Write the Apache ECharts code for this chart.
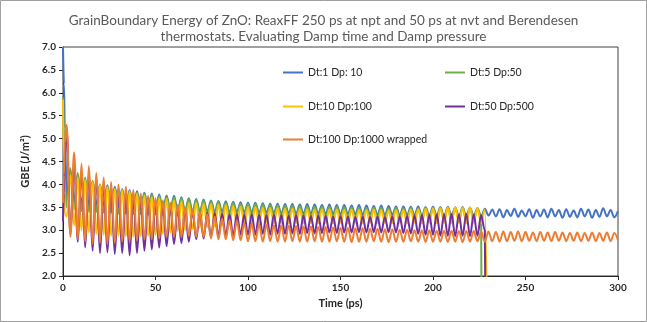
<!DOCTYPE html>
<html>
<head>
<meta charset="utf-8">
<script src="https://cdn.jsdelivr.net/npm/echarts@6/dist/echarts.min.js"></script>
<style>
  html, body { margin: 0; padding: 0; background: #fff; }
  #chart { width: 647px; height: 322px; }
</style>
</head>
<body>
<div id="chart"></div>
<script>
const titleText = 'GrainBoundary Energy of ZnO: ReaxFF 250 ps at npt and 50 ps at nvt and Berendesen\nthermostats. Evaluating Damp time and Damp pressure';
const seriesNames = ['Dt:1 Dp: 10', 'Dt:5 Dp:50', 'Dt:10 Dp:100', 'Dt:50 Dp:500', 'Dt:100 Dp:1000 wrapped'];
const seriesColors = ['#4472C4', '#70AD47', '#FFC000', '#7030A0', '#ED7D31'];

// time (ps)
const times = [0, 0.5, 1,
  2, 4, 6, 8, 10, 12, 14, 16, 18, 20,
  22, 24, 26, 28, 30, 32, 34, 36, 38, 40,
  42, 44, 46, 48, 50, 52, 54, 56, 58, 60,
  62, 64, 66, 68, 70, 72, 74, 76, 78, 80,
  82, 84, 86, 88, 90, 92, 94, 96, 98, 100,
  102, 104, 106, 108, 110, 112, 114, 116, 118, 120,
  122, 124, 126, 128, 130, 132, 134, 136, 138, 140,
  142, 144, 146, 148, 150, 152, 154, 156, 158, 160,
  162, 164, 166, 168, 170, 172, 174, 176, 178, 180,
  182, 184, 186, 188, 190, 192, 194, 196, 198, 200,
  202, 204, 206, 208, 210, 212, 214, 216, 218, 220,
  222, 224, 226, 228, 230, 232, 234, 236, 238, 240,
  242, 244, 246, 248, 250, 252, 254, 256, 258, 260,
  262, 264, 266, 268, 270, 272, 274, 276, 278, 280,
  282, 284, 286, 288, 290, 292, 294, 296, 298, 300];

const gbeDt1 = [7.0, 6.2, 5.2,
  3.7, 4.3, 3.62, 4.2, 3.58, 4.12, 3.55, 4.05, 3.55, 4.0,
  3.52, 3.98, 3.5, 3.95, 3.5, 3.9, 3.48, 3.88, 3.47, 3.85,
  3.46, 3.82, 3.45, 3.8, 3.44, 3.78, 3.43, 3.76, 3.42, 3.75,
  3.42, 3.72, 3.41, 3.7, 3.4, 3.68, 3.4, 3.67, 3.4, 3.65,
  3.39, 3.64, 3.4, 3.63, 3.38, 3.62, 3.39, 3.61, 3.38, 3.6,
  3.38, 3.6, 3.37, 3.59, 3.38, 3.58, 3.37, 3.58, 3.36, 3.57,
  3.37, 3.57, 3.36, 3.56, 3.36, 3.57, 3.35, 3.56, 3.36, 3.55,
  3.35, 3.56, 3.35, 3.55, 3.34, 3.55, 3.35, 3.54, 3.34, 3.55,
  3.33, 3.54, 3.34, 3.53, 3.33, 3.54, 3.32, 3.53, 3.33, 3.52,
  3.32, 3.52, 3.33, 3.51, 3.32, 3.52, 3.31, 3.5, 3.32, 3.51,
  3.31, 3.5, 3.3, 3.51, 3.31, 3.49, 3.3, 3.5, 3.3, 3.49,
  3.3, 3.48, 3.29, 3.47, 3.32, 3.45, 3.3, 3.46, 3.28, 3.44,
  3.31, 3.47, 3.29, 3.43, 3.3, 3.46, 3.27, 3.44, 3.3, 3.45,
  3.28, 3.47, 3.3, 3.44, 3.27, 3.46, 3.29, 3.43, 3.28, 3.47,
  3.3, 3.45, 3.27, 3.44, 3.29, 3.48, 3.3, 3.44, 3.28, 3.42];

const gbeDt5 = [5.9, 4.8, 4.0,
  3.5, 4.35, 3.45, 4.25, 3.42, 4.15, 3.4, 4.08, 3.4, 4.0,
  3.38, 3.95, 3.38, 3.92, 3.36, 3.88, 3.36, 3.85, 3.35, 3.82,
  3.35, 3.8, 3.34, 3.78, 3.34, 3.75, 3.33, 3.73, 3.34, 3.72,
  3.33, 3.7, 3.34, 3.68, 3.33, 3.66, 3.34, 3.65, 3.33, 3.63,
  3.33, 3.62, 3.32, 3.6, 3.33, 3.6, 3.32, 3.58, 3.32, 3.58,
  3.31, 3.57, 3.3, 3.56, 3.31, 3.55, 3.3, 3.55, 3.29, 3.54,
  3.3, 3.54, 3.28, 3.53, 3.29, 3.53, 3.28, 3.52, 3.27, 3.52,
  3.28, 3.51, 3.27, 3.51, 3.26, 3.5, 3.27, 3.5, 3.26, 3.5,
  3.25, 3.49, 3.26, 3.5, 3.25, 3.49, 3.24, 3.48, 3.25, 3.49,
  3.24, 3.48, 3.25, 3.49, 3.24, 3.48, 3.23, 3.5, 3.24, 3.49,
  3.23, 3.5, 3.24, 3.49, 3.23, 3.5, 3.22, 3.5, 3.23, 3.49,
  3.22, 3.48, 3.3];

const gbeDt10 = [5.85, 4.5, 3.35,
  3.3, 4.2, 3.1, 4.15, 3.0, 4.1, 2.95, 4.05, 2.92, 4.0,
  2.9, 3.95, 2.88, 3.9, 2.88, 3.88, 2.87, 3.85, 2.86, 3.8,
  2.87, 3.75, 2.88, 3.72, 2.9, 3.7, 2.92, 3.68, 2.95, 3.65,
  2.98, 3.63, 3.0, 3.6, 3.02, 3.6, 3.05, 3.58, 3.07, 3.57,
  3.08, 3.56, 3.1, 3.55, 3.12, 3.53, 3.13, 3.52, 3.14, 3.5,
  3.15, 3.5, 3.15, 3.49, 3.16, 3.48, 3.15, 3.48, 3.16, 3.47,
  3.15, 3.47, 3.16, 3.46, 3.15, 3.46, 3.16, 3.45, 3.15, 3.46,
  3.16, 3.45, 3.15, 3.45, 3.16, 3.44, 3.15, 3.45, 3.16, 3.44,
  3.15, 3.44, 3.16, 3.45, 3.15, 3.44, 3.16, 3.43, 3.15, 3.44,
  3.16, 3.44, 3.15, 3.45, 3.16, 3.46, 3.15, 3.47, 3.16, 3.48,
  3.15, 3.48, 3.16, 3.5, 3.15, 3.5, 3.16, 3.49, 3.15, 3.5,
  3.16, 3.48, 3.15, 3.45];

const gbeDt50 = [3.2, 3.8, 4.6,
  5.2, 2.9, 4.5, 2.75, 4.3, 2.62, 4.25, 2.55, 4.15, 2.5,
  4.05, 2.52, 3.95, 2.48, 3.9, 2.5, 3.85, 2.45, 3.8, 2.5,
  3.75, 2.55, 3.7, 2.58, 3.65, 2.62, 3.6, 2.65, 3.55, 2.7,
  3.5, 2.72, 3.46, 2.75, 3.43, 2.8, 3.4, 2.82, 3.38, 2.85,
  3.37, 2.87, 3.36, 2.88, 3.35, 2.88, 3.35, 2.9, 3.34, 2.9,
  3.35, 2.9, 3.34, 2.92, 3.33, 2.9, 3.34, 2.92, 3.33, 2.92,
  3.32, 2.93, 3.33, 2.92, 3.32, 2.94, 3.31, 2.93, 3.32, 2.94,
  3.31, 2.95, 3.3, 2.94, 3.31, 2.95, 3.3, 2.95, 3.29, 2.96,
  3.3, 2.95, 3.29, 2.96, 3.3, 2.95, 3.29, 2.96, 3.3, 2.95,
  3.3, 2.94, 3.31, 2.93, 3.32, 2.92, 3.33, 2.9, 3.34, 2.9,
  3.35, 2.88, 3.35, 2.88, 3.36, 2.87, 3.35, 2.88, 3.36, 2.87,
  3.35, 2.88, 3.33, 3.0];

const gbeDt100 = [3.6, 4.2, 4.9,
  5.3, 2.85, 4.7, 2.8, 4.45, 2.75, 4.4, 2.7, 4.25, 2.72,
  4.15, 2.7, 4.05, 2.72, 4.0, 2.75, 3.95, 2.75, 3.88, 2.78,
  3.8, 2.8, 3.75, 2.8, 3.7, 2.82, 3.65, 2.85, 3.6, 2.85,
  3.55, 2.85, 3.5, 2.87, 3.45, 2.85, 3.4, 2.85, 3.35, 2.82,
  3.3, 2.8, 3.25, 2.8, 3.22, 2.78, 3.2, 2.78, 3.15, 2.76,
  3.14, 2.76, 3.13, 2.75, 3.12, 2.76, 3.11, 2.75, 3.1, 2.75,
  3.1, 2.76, 3.09, 2.75, 3.08, 2.75, 3.08, 2.76, 3.07, 2.75,
  3.07, 2.75, 3.06, 2.76, 3.05, 2.75, 3.05, 2.74, 3.04, 2.75,
  3.04, 2.75, 3.03, 2.76, 3.03, 2.75, 3.02, 2.74, 3.02, 2.75,
  3.01, 2.75, 3.01, 2.76, 3.0, 2.75, 3.0, 2.74, 3.0, 2.75,
  2.99, 2.75, 2.99, 2.74, 2.99, 2.75, 2.98, 2.74, 2.98, 2.75,
  2.98, 2.76, 2.97, 2.75, 2.97, 2.76, 2.96, 2.75, 2.97, 2.76,
  2.96, 2.77, 2.97, 2.76, 2.96, 2.77, 2.95, 2.76, 2.96, 2.77,
  2.95, 2.76, 2.96, 2.77, 2.95, 2.76, 2.94, 2.77, 2.95, 2.76,
  2.94, 2.77, 2.95, 2.76, 2.94, 2.77, 2.95, 2.76, 2.94, 2.78];

// runs that stop: [time (ps), value] of the final drop
const dropDt5 = [226.3, 0];
const dropDt10 = [229.6, 0];
const dropDt50 = [228.5, 0];

const yTicks = ['2.0', '2.5', '3.0', '3.5', '4.0', '4.5', '5.0', '5.5', '6.0', '6.5', '7.0'];
const xTicks = [0, 50, 100, 150, 200, 250, 300];

function toPairs(vals, drop) {
  const out = vals.map((v, i) => [times[i], v]);
  if (drop) out.push(drop);
  return out;
}

const allValues = [gbeDt1, gbeDt5, gbeDt10, gbeDt50, gbeDt100];
const allDrops = [null, dropDt5, dropDt10, dropDt50, null];

const FONT = 'Lato';
const chart = echarts.init(document.getElementById('chart'), null, { renderer: 'canvas' });

const legendPos = [[283, 67], [445, 67], [283, 101], [445, 101], [283, 134]];
const legends = seriesNames.map((n, i) => ({
  data: [n],
  left: legendPos[i][0],
  top: legendPos[i][1],
  padding: 0,
  icon: 'rect',
  itemWidth: 20,
  itemHeight: 2,
  selectedMode: false,
  textStyle: { fontFamily: FONT, fontSize: 10.5, color: '#262626' }
}));

chart.setOption({
  animation: false,
  backgroundColor: '#fff',
  title: {
    text: titleText,
    left: 'center',
    top: 8,
    textStyle: { fontFamily: FONT, fontSize: 13.5, fontWeight: 'normal', color: '#595959', lineHeight: 16 }
  },
  graphic: [{
    type: 'rect',
    shape: { x: 0.5, y: 0.5, width: 646, height: 321 },
    style: { fill: 'none', stroke: '#a0a0a0', lineWidth: 1 },
    silent: true
  }],
  legend: legends,
  grid: { left: 63, right: 29, top: 47, bottom: 46, show: true, borderColor: '#404040', borderWidth: 1, backgroundColor: 'transparent' },
  xAxis: {
    type: 'value', min: 0, max: 300, interval: 50,
    name: 'Time (ps)', nameLocation: 'middle', nameGap: 21,
    nameTextStyle: { fontFamily: FONT, fontSize: 11, fontWeight: 'bold', color: '#262626' },
    axisLine: { show: true, lineStyle: { color: '#262626', width: 1 } },
    axisTick: { show: true, inside: false, length: 4, lineStyle: { color: '#262626' } },
    axisLabel: { fontFamily: FONT, fontSize: 10, fontWeight: 'bold', color: '#262626', margin: 7,
      formatter: v => (xTicks.indexOf(v) >= 0 ? String(v) : '') },
    splitLine: { show: false }
  },
  yAxis: {
    type: 'value', min: 2, max: 7, interval: 0.5,
    name: 'GBE (J/m²)', nameLocation: 'middle', nameGap: 29,
    nameTextStyle: { fontFamily: FONT, fontSize: 11, fontWeight: 'bold', color: '#262626' },
    axisLine: { show: true, lineStyle: { color: '#262626', width: 1 } },
    axisTick: { show: true, inside: false, length: 4, lineStyle: { color: '#262626' } },
    axisLabel: { fontFamily: FONT, fontSize: 10, fontWeight: 'bold', color: '#262626', margin: 7,
      formatter: v => yTicks[Math.round((v - 2) / 0.5)] },
    splitLine: { show: false }
  },
  series: seriesNames.map((n, i) => ({
    name: n,
    type: 'line',
    data: toPairs(allValues[i], allDrops[i]),
    showSymbol: false,
    symbol: 'none',
    smooth: 0.35,
    smoothMonotone: 'x',
    clip: true,
    color: seriesColors[i],
    lineStyle: { color: seriesColors[i], width: 2 }
  }))
});
</script>
</body>
</html>
